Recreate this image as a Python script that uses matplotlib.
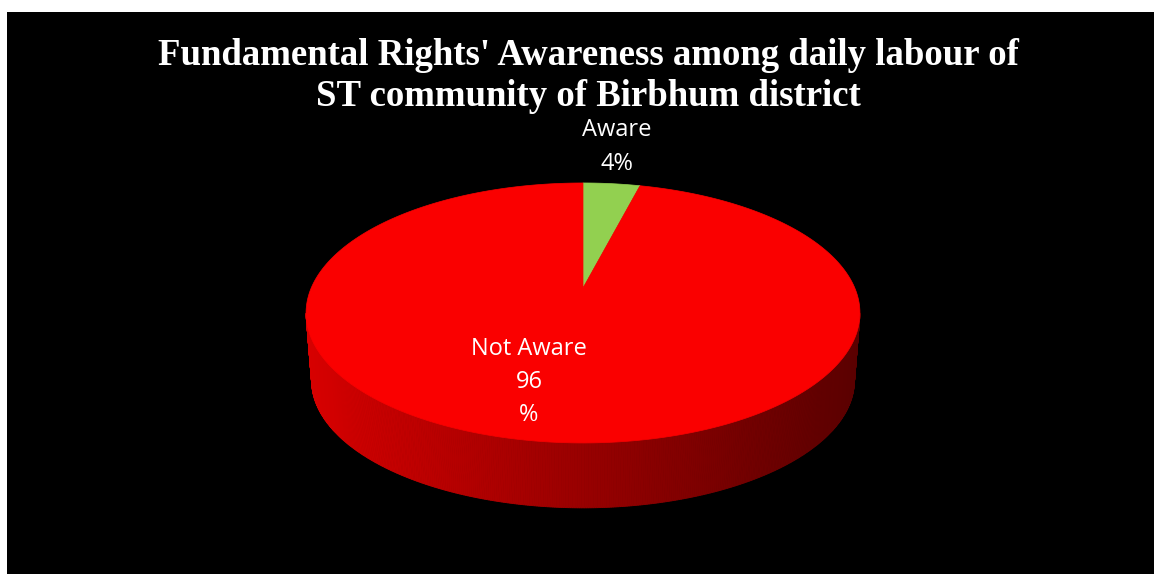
import numpy as np
import matplotlib.pyplot as plt
from matplotlib.patches import Polygon

# ---- data ----
categories = ["Aware", "Not Aware"]
values = [4, 96]
slice_colors = ["#92D050", "#FA0000"]
label_texts = ["Aware\n4%", "Not Aware\n96\n%"]
title = "Fundamental Rights' Awareness among daily labour of\nST community of Birbhum district"

W, H = 1154, 574
fig = plt.figure(figsize=(W / 100, H / 100), dpi=100, facecolor="white")
ax = fig.add_axes([7 / W, 0, 1 - 7 / W, 1 - 12 / H])
ax.set_xlim(7, W)
ax.set_ylim(H, 12)
ax.set_facecolor("black")
for s in ax.spines.values():
    s.set_visible(False)
ax.set_xticks([])
ax.set_yticks([])

# ---- 3D pie geometry (perspective) ----
cx, cy = 583.0, 288.0
A, B, k = 271.8, 125.2, 0.192
thick_dz, bottom_scale = 68.0, 0.98


def proj(phi, r=1.0, s=1.0, dz=0.0):
    x = r * np.sin(phi)
    y = -r * np.cos(phi)
    d = 1 - k * y
    return cx + s * A * x / d, cy + dz + s * B * y / d


fracs = np.array(values, dtype=float) / np.sum(values)
bounds = np.concatenate([[0], np.cumsum(fracs)]) * 2 * np.pi


def slice_of(phi):
    for i in range(len(values)):
        if bounds[i] <= phi < bounds[i + 1]:
            return i
    return len(values) - 1


def hex2rgb(h):
    h = h.lstrip("#")
    return np.array([int(h[i:i + 2], 16) for i in (0, 2, 4)]) / 255.0


# side (front half, visible)
phi_r = np.pi / 2 + np.arcsin(k)
phi_l = 3 * np.pi / 2 - np.arcsin(k)
phis = np.linspace(phi_r, phi_l, 400)
xl, _ = proj(phi_l)
xr, _ = proj(phi_r)
for p0, p1 in zip(phis[:-1], phis[1:]):
    t0 = proj(p0)
    t1 = proj(p1)
    b0 = proj(p0, s=bottom_scale, dz=thick_dz)
    b1 = proj(p1, s=bottom_scale, dz=thick_dz)
    base = hex2rgb(slice_colors[slice_of((p0 + p1) / 2)])
    xm = (t0[0] + t1[0]) / 2
    f = (xm - xl) / (xr - xl)  # 0 left, 1 right
    shade = 0.86 - 0.50 * f
    col = np.clip(base * shade, 0, 1)
    poly = Polygon([t0, t1, b1, b0], closed=True, facecolor=col,
                   edgecolor=col, linewidth=0.6, zorder=2)
    ax.add_patch(poly)

# top faces
for i in range(len(values)):
    arc = np.linspace(bounds[i], bounds[i + 1], 300)
    px, py = proj(arc)
    pts = [(cx, cy)] + list(zip(px, py))
    ax.add_patch(Polygon(pts, closed=True, facecolor=slice_colors[i],
                         edgecolor=slice_colors[i], linewidth=0.5, zorder=3))

# labels
label_pos = [(617, 147), (529, 382)]
for txt, (lx, ly) in zip(label_texts, label_pos):
    ax.text(lx, ly, txt, color="white", fontsize=17, family="Open Sans",
            ha="center", va="center", linespacing=1.5, zorder=5)

# title
ax.text(588, 76, title, color="white", fontsize=26.5, family="Liberation Serif",
        fontweight="bold", ha="center", va="center", linespacing=1.25, zorder=5)

fig.savefig("out.png", dpi=100, facecolor="white")
